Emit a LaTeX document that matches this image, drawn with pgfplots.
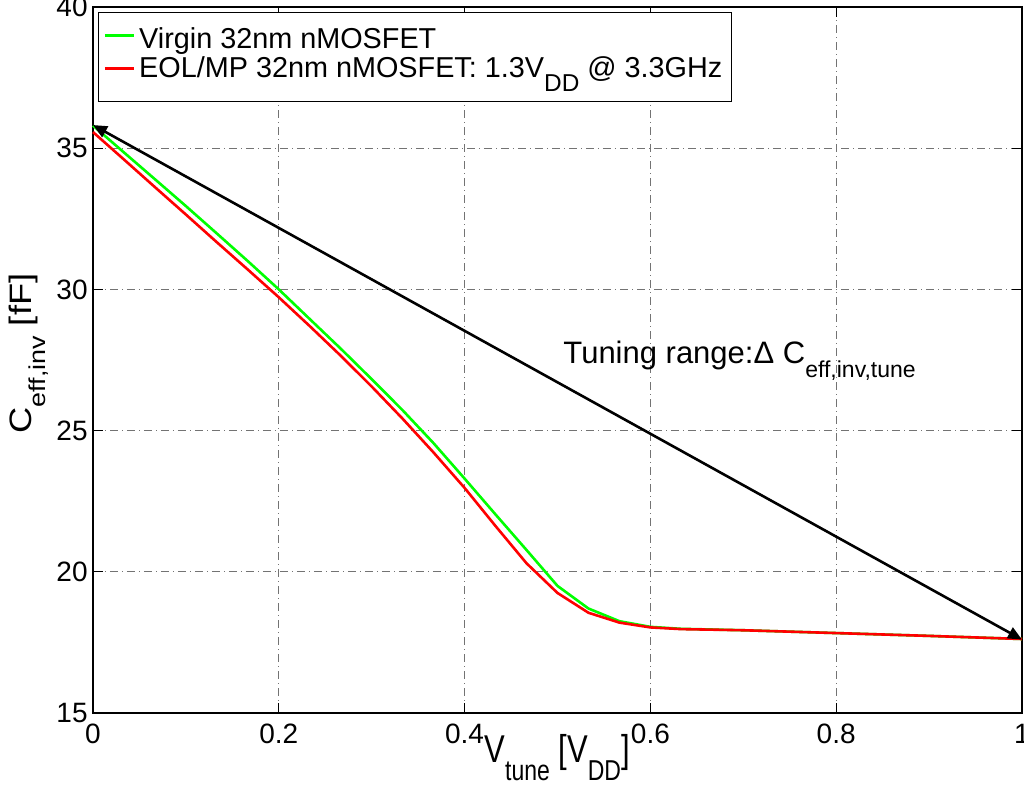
\documentclass[border=0pt]{standalone}
\usepackage{fontspec}
\setmainfont{Liberation Sans}
\usepackage{graphicx}
\usepackage{pgfplots}
\pgfplotsset{compat=1.18}
\usetikzlibrary{arrows.meta}

% lowered, slightly smaller subscript
\newcommand{\sub}[2][11]{\raisebox{-7pt}{\fontsize{#1}{#1}\selectfont #2}}

\begin{document}
\begin{tikzpicture}
\begin{axis}[
  name=ax,
  scale only axis, width=464.5pt, height=353pt,
  xmin=0, xmax=1, ymin=15, ymax=40,
  xtick={0,0.2,0.4,0.6,0.8,1},
  ytick={15,20,25,30,35,40},
  tick align=inside, major tick length=5pt,
  tick style={black, line width=0.5pt},
  axis line style={line width=0.6pt},
  grid=major,
  major grid style={black!55, line width=0.5pt, dash pattern=on 4pt off 2pt on 0.5pt off 2pt},
  tick label style={font=\fontsize{14}{14}\selectfont},
  /pgf/number format/assume math mode=true,
  xticklabel style={inner sep=0pt, yshift=-5.5pt},
  yticklabel style={inner sep=0pt, xshift=-2.5pt},
  xlabel={\scalebox{1}[1.25]{V\sub[11.5]{tune} [V\sub[11.5]{DD}]}},
  ylabel={\scalebox{1.17}[1]{C\sub[11.5]{eff,inv} [fF]}},
  xlabel style={at={(axis description cs:0.4995,-0.0708)}, anchor=base, inner sep=0pt, font=\fontsize{15.5}{15.5}\selectfont},
  ylabel style={at={(axis description cs:-0.0657,0.509)}, anchor=base, inner sep=0pt, font=\fontsize{15.5}{15.5}\selectfont},
  legend style={at={(axis description cs:0.0054,0.9929)}, anchor=north west,
    draw=black, line width=0.6pt, fill=white,
    font=\fontsize{14.4}{14.4}\selectfont,
    inner xsep=2.5pt, inner ysep=3.5pt, row sep=2.5pt,
    nodes={inner xsep=2pt, inner ysep=0pt}},
  legend cell align=left,
  legend image code/.code={\draw[#1, line width=1.3pt] (0pt,0pt) -- (14.5pt,0pt);},
  clip=false,
]
% virgin device
\addplot[color={rgb,1:red,0;green,1;blue,0}, line width=1.3pt] coordinates {
  (0,35.80) (0.0333,34.85) (0.0667,33.90) (0.1,32.95) (0.1333,31.98)
  (0.1667,31.00) (0.2,30.00) (0.2333,28.95) (0.2667,27.90) (0.3,26.82)
  (0.3333,25.72) (0.3667,24.55) (0.4,23.30) (0.4333,22.03) (0.4667,20.77)
  (0.5,19.50) (0.5333,18.70) (0.5667,18.25) (0.6,18.05) (0.6333,17.98)
  (0.7,17.93) (0.8,17.83) (0.9,17.73) (1,17.62)
};
\addlegendentry{\rule{0pt}{14.5pt}Virgin 32nm nMOSFET}
% end-of-life device
\addplot[color={rgb,1:red,1;green,0;blue,0}, line width=1.3pt] coordinates {
  (0,35.57) (0.0333,34.60) (0.0667,33.62) (0.1,32.65) (0.1333,31.67)
  (0.1667,30.70) (0.2,29.72) (0.2333,28.70) (0.2667,27.65) (0.3,26.56)
  (0.3333,25.42) (0.3667,24.22) (0.4,22.97) (0.4333,21.62) (0.4667,20.30)
  (0.5,19.25) (0.5333,18.55) (0.5667,18.20) (0.6,18.03) (0.6333,17.97)
  (0.7,17.93) (0.8,17.83) (0.9,17.73) (1,17.62)
};
\addlegendentry{EOL/MP 32nm nMOSFET: 1.3V\sub[12.2]{DD} @ 3.3GHz}
% spacer row below the subscripted entry
\addlegendimage{empty legend}
\addlegendentry{\rule{0pt}{3pt}}
% tuning range arrow
\addplot[forget plot, black, line width=1.3pt,
  {Triangle[length=7pt,width=6pt]}-{Triangle[length=7pt,width=6pt]}]
  coordinates {(0,35.82) (1,17.60)};
\node[anchor=base west, inner sep=0pt, font=\fontsize{15.5}{15.5}\selectfont]
  at (axis cs:0.506,27.39) {Tuning range:Δ C\sub[11.5]{eff,inv,tune}};
\end{axis}
\pgfresetboundingbox
\path[use as bounding box] ([xshift=-46.5pt,yshift=-38.5pt]ax.south west)
  rectangle ([xshift=1pt,yshift=3.5pt]ax.north east);
\end{tikzpicture}
\end{document}
